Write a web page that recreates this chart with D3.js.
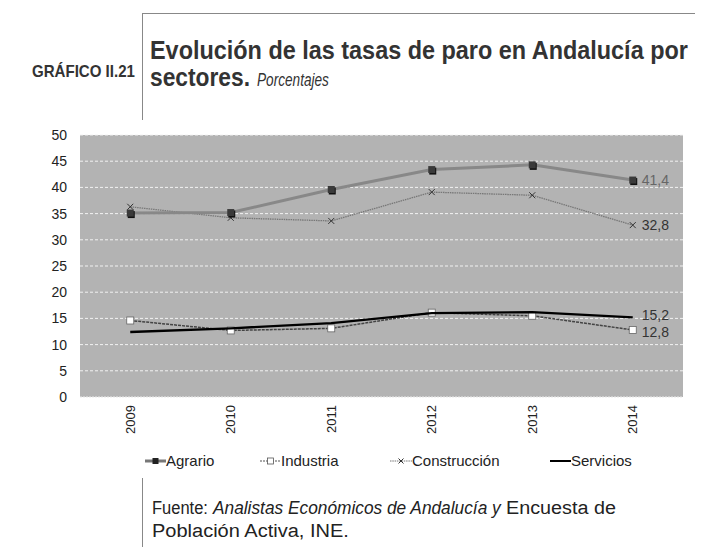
<!DOCTYPE html>
<html><head><meta charset="utf-8">
<script src="https://cdn.jsdelivr.net/npm/d3@7"></script>
<style>
body{margin:0;background:#fff;}
svg{display:block;}
</style></head>
<body>
<svg id="c" width="702" height="547"></svg>
<script>
const years = ["2009","2010","2011","2012","2013","2014"];
const agrario = [35.1, 35.2, 39.6, 43.4, 44.3, 41.4];
const industria = [14.6, 12.7, 13.1, 16.1, 15.5, 12.8];
const construccion = [36.3, 34.2, 33.6, 39.1, 38.5, 32.8];
const servicios = [12.4, 13.1, 14.1, 16.0, 16.2, 15.2];
const yTicks = [0,5,10,15,20,25,30,35,40,45,50];
const endLabels = ["41,4","12,8","32,8","15,2"];

const svg = d3.select("#c");
const L=80, R=683, T=135, B=397;
const x = d3.scaleBand().domain(years).range([L,R]);
const y = d3.scaleLinear().domain([0,50]).range([B,T]);
const sans = "Liberation Sans, Arial, sans-serif";

// text squeezed horizontally to a given width via scaleX
function fitText(parent, str, px, py, width, attrs){
  const t = parent.append("text").attr("x",0).attr("y",0).text(str);
  Object.entries(attrs).forEach(([k,v])=>t.attr(k,v));
  const w = t.node().getComputedTextLength();
  t.attr("transform",`translate(${px},${py}) scale(${width/w},1)`);
  return t;
}

// header
svg.append("line").attr("x1",142).attr("x2",695).attr("y1",13.5).attr("y2",13.5).attr("stroke","#888").attr("stroke-width",1);
svg.append("line").attr("x1",142.5).attr("x2",142.5).attr("y1",13).attr("y2",120).attr("stroke","#888").attr("stroke-width",1);
const hb = {"font-family":sans,"font-weight":"bold","fill":"#333"};
fitText(svg,"GRÁFICO II.21",32,77,103,{...hb,"font-size":16});
fitText(svg,"Evolución de las tasas de paro en Andalucía por",150,59,538,{...hb,"font-size":25});
fitText(svg,"sectores.",150,86,100,{...hb,"font-size":25});
fitText(svg,"Porcentajes",257,86,72,{"font-family":sans,"font-style":"italic","font-size":18,"fill":"#333"});

// plot bg
svg.append("rect").attr("x",L).attr("y",T).attr("width",R-L).attr("height",B-T).attr("fill","#b3b3b3");
svg.append("g").selectAll("line").data(yTicks.filter(d=>d>0)).join("line")
 .attr("x1",L).attr("x2",R).attr("y1",d=>y(d)).attr("y2",d=>y(d))
 .attr("stroke","#f2f2f2").attr("stroke-width",1).attr("stroke-dasharray","3,2");
svg.append("line").attr("x1",L).attr("x2",R).attr("y1",B).attr("y2",B).attr("stroke","#e8e8e8").attr("stroke-dasharray","2,1");

// axes
const ya = svg.append("g").attr("transform",`translate(${L-10},0)`).call(d3.axisLeft(y).tickValues(yTicks).tickSize(0).tickPadding(3));
ya.select(".domain").remove();
ya.selectAll("text").attr("font-family",sans).attr("font-size",14).attr("fill","#222");
const xa = svg.append("g").attr("transform",`translate(0,${B})`).call(d3.axisBottom(x).tickSize(0));
xa.select(".domain").remove();
xa.selectAll("text").attr("font-family",sans).attr("font-size",13).attr("fill","#222")
 .attr("transform","rotate(-90)").attr("text-anchor","end").attr("dy","0.35em").attr("x",-8).attr("y",0);

const cx = d => x(d)+x.bandwidth()/2;
const line = d3.line().x((d,i)=>cx(years[i])).y(d=>y(d));

// Construcción
svg.append("path").datum(construccion).attr("d",line).attr("fill","none").attr("stroke","#777").attr("stroke-width",1.3).attr("stroke-dasharray","1.5,0.8");
svg.append("g").selectAll("path").data(construccion).join("path")
 .attr("d",(d,i)=>{const a=cx(years[i]),b=y(d),s=3;return `M${a-s},${b-s}L${a+s},${b+s}M${a-s},${b+s}L${a+s},${b-s}`;})
 .attr("stroke","#333").attr("stroke-width",1);

// Agrario
svg.append("path").datum(agrario).attr("d",line).attr("fill","none").attr("stroke","#888").attr("stroke-width",3);
const ag = svg.append("g");
ag.selectAll("rect.s").data(agrario).join("rect").attr("class","s")
 .attr("x",(d,i)=>cx(years[i])-2.5).attr("y",d=>y(d)-2).attr("width",7).attr("height",7).attr("fill","#111");
ag.selectAll("rect.m").data(agrario).join("rect").attr("class","m")
 .attr("x",(d,i)=>cx(years[i])-3.5).attr("y",d=>y(d)-3.5).attr("width",7).attr("height",7).attr("fill","#3a3a3a");

// Industria
svg.append("path").datum(industria).attr("d",line).attr("fill","none").attr("stroke","#444").attr("stroke-width",1.5).attr("stroke-dasharray","3,1");
svg.append("g").selectAll("rect").data(industria).join("rect")
 .attr("x",(d,i)=>cx(years[i])-3.5).attr("y",d=>y(d)-3.5).attr("width",7).attr("height",7).attr("fill","#fff").attr("stroke","#666").attr("stroke-width",0.8);

// Servicios
svg.append("path").datum(servicios).attr("d",line).attr("fill","none").attr("stroke","#000").attr("stroke-width",2.4);

// end labels
const lastX = cx(years[5])+9;
const ends = [[agrario[5],endLabels[0],"#666",0],[industria[5],endLabels[1],"#333",2],[construccion[5],endLabels[2],"#333",0],[servicios[5],endLabels[3],"#333",-2]];
svg.append("g").selectAll("text").data(ends).join("text")
 .attr("x",lastX).attr("y",d=>y(d[0])+d[3]).attr("dy","0.35em").attr("font-family",sans).attr("font-size",14).attr("fill",d=>d[2]).text(d=>d[1]);

// legend
const lg = svg.append("g").attr("font-family",sans).attr("font-size",15).attr("fill","#222");
const ly = 461;
lg.append("line").attr("x1",145).attr("x2",166).attr("y1",ly).attr("y2",ly).attr("stroke","#777").attr("stroke-width",3);
lg.append("rect").attr("x",152.5).attr("y",ly-3).attr("width",6).attr("height",6).attr("fill","#222");
lg.append("text").attr("x",166).attr("y",ly).attr("dy","0.35em").text("Agrario");
lg.append("line").attr("x1",260).attr("x2",281).attr("y1",ly).attr("y2",ly).attr("stroke","#555").attr("stroke-width",1.2).attr("stroke-dasharray","2,1");
lg.append("rect").attr("x",267.5).attr("y",ly-3).attr("width",6).attr("height",6).attr("fill","#fff").attr("stroke","#555").attr("stroke-width",0.8);
lg.append("text").attr("x",281).attr("y",ly).attr("dy","0.35em").text("Industria");
lg.append("line").attr("x1",390).attr("x2",412).attr("y1",ly).attr("y2",ly).attr("stroke","#777").attr("stroke-width",1).attr("stroke-dasharray","1.5,0.8");
lg.append("path").attr("d",`M${398.5},${ly-2.5}L${403.5},${ly+2.5}M${398.5},${ly+2.5}L${403.5},${ly-2.5}`).attr("stroke","#333").attr("stroke-width",1);
lg.append("text").attr("x",412).attr("y",ly).attr("dy","0.35em").text("Construcción");
lg.append("line").attr("x1",550).attr("x2",571).attr("y1",ly).attr("y2",ly).attr("stroke","#000").attr("stroke-width",2);
lg.append("text").attr("x",571).attr("y",ly).attr("dy","0.35em").text("Servicios");

// source
svg.append("line").attr("x1",142.5).attr("x2",142.5).attr("y1",478).attr("y2",547).attr("stroke","#888").attr("stroke-width",1);
const src = svg.append("g");
const sa = {"font-family":sans,"font-size":19,"fill":"#222"};
fitText(src,"Fuente:",152,514,56,sa);
fitText(src,"Analistas Económicos de Andalucía y",213,514,288,{...sa,"font-style":"italic"});
fitText(src,"Encuesta de",506,514,110,sa);
fitText(src,"Población Activa, INE.",152,537,197,sa);
</script>
</body></html>
